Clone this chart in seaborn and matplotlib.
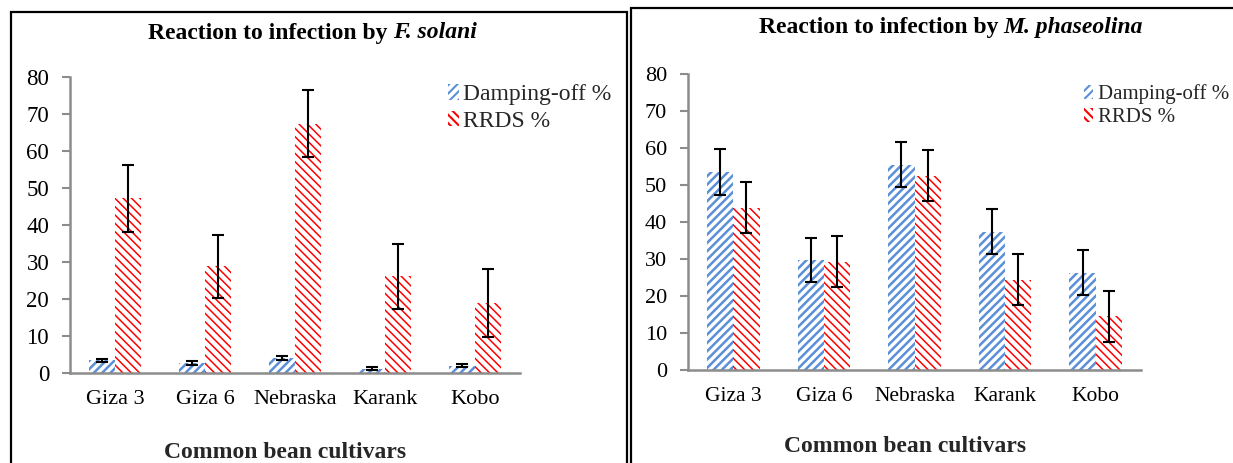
import numpy as np
import pandas as pd
import matplotlib
matplotlib.use("Agg")
import matplotlib.pyplot as plt
import seaborn as sns
from matplotlib.patches import Rectangle, Patch
from matplotlib.offsetbox import TextArea, HPacker, AnchoredOffsetbox

# ---------------- data ----------------
cultivars = ["Giza 3", "Giza 6", "Nebraska", "Karank", "Kobo"]
series_names = ["Damping-off %", "RRDS %"]

fs_damping = [3.4, 2.7, 4.1, 1.2, 2.0]
fs_damping_err = [0.5, 0.5, 0.5, 0.5, 0.5]
fs_rrds = [47.2, 28.8, 67.4, 26.1, 18.9]
fs_rrds_err = [9.0, 8.6, 9.0, 8.7, 9.1]

mp_damping = [53.5, 29.8, 55.5, 37.4, 26.3]
mp_damping_err = [6.1, 6.0, 6.0, 6.0, 6.0]
mp_rrds = [43.9, 29.3, 52.5, 24.4, 14.5]
mp_rrds_err = [6.8, 6.9, 6.9, 6.9, 6.9]

yticks = [0, 10, 20, 30, 40, 50, 60, 70, 80]

# ---------------- style ----------------
sns.set_theme(style="white")
plt.rcParams["font.family"] = ["Liberation Serif", "DejaVu Serif"]
plt.rcParams["hatch.linewidth"] = 1.5

BLUE = "#5B8FD8"
RED = "#FF0000"
GRAY = "#8C8C8C"
HATCHES = ["////", "\\\\\\\\"]
HATCH_LW = [1.8, 1.1]

W, H = 1233, 463
fig = plt.figure(figsize=(W / 100, H / 100), dpi=100)


def px_axes(x0, x1, ytop, ybot):
    return fig.add_axes([x0 / W, (H - ybot) / H, (x1 - x0) / W, (ybot - ytop) / H])


def style_patch(p, color, hatch, hlw):
    p.set_facecolor("white")
    p.set_edgecolor(color)
    p.set_hatch(hatch)
    p.set_linewidth(0)
    try:
        p.set_hatch_linewidth(hlw)
    except Exception:
        pass


def draw_panel(ax, dmp, dmp_err, rr, rr_err, ysize, xsize):
    df = pd.DataFrame({
        "cultivar": cultivars * 2,
        "measure": [series_names[0]] * len(cultivars) + [series_names[1]] * len(cultivars),
        "value": list(dmp) + list(rr),
    })
    sns.barplot(data=df, x="cultivar", y="value", hue="measure",
                order=cultivars, hue_order=series_names,
                palette=[BLUE, RED], width=0.58, errorbar=None,
                legend=False, ax=ax)
    colors = [BLUE, RED]
    errs = [dmp_err, rr_err]
    vals = [dmp, rr]
    bar_conts = list(ax.containers)
    for i, cont in enumerate(bar_conts):
        xs = []
        for p in cont.patches:
            style_patch(p, colors[i], HATCHES[i], HATCH_LW[i])
            xs.append(p.get_x() + p.get_width() / 2)
        ax.errorbar(xs, vals[i], yerr=errs[i], fmt="none", ecolor="black",
                    elinewidth=1.5, capsize=4.5, capthick=1.5, zorder=5)
    ax.set_ylim(0, 80)
    ax.set_yticks(yticks)
    ax.set_xlim(-0.5, len(cultivars) - 0.5)
    ax.set_xlabel("")
    ax.set_ylabel("")
    for s in ["top", "right"]:
        ax.spines[s].set_visible(False)
    for s in ["left", "bottom"]:
        ax.spines[s].set_color(GRAY)
        ax.spines[s].set_linewidth(1.8)
    ax.tick_params(axis="y", which="major", left=True, length=6, width=1.5,
                   color=GRAY, pad=9, labelsize=ysize, labelcolor="black")
    ax.tick_params(axis="x", length=0, pad=12, labelsize=xsize,
                   labelcolor="black")
    ax.set_facecolor("white")
    handles = []
    for c, h, lw in zip(colors, HATCHES, HATCH_LW):
        hp = Patch()
        style_patch(hp, c, h, lw)
        handles.append(hp)
    return handles


def title_box(xfig, yfig, plain, italic, size):
    tp = dict(fontsize=size, fontweight="bold", color="black",
              family=["Liberation Serif"])
    ti = dict(fontsize=size, fontweight="bold", fontstyle="italic", color="black",
              family=["Liberation Serif"])
    box = HPacker(children=[TextArea(plain, textprops=tp), TextArea(italic, textprops=ti)],
                  align="baseline", pad=0, sep=4)
    anch = AnchoredOffsetbox(loc="center", child=box, frameon=False,
                             bbox_to_anchor=(xfig, yfig), bbox_transform=fig.transFigure,
                             borderpad=0, pad=0)
    fig.add_artist(anch)


# ---------------- left panel ----------------
axL = px_axes(70, 520, 77, 373)
hL = draw_panel(axL, fs_damping, fs_damping_err, fs_rrds, fs_rrds_err, 16.5, 16)
axL.legend(hL, series_names, loc="upper left", bbox_to_anchor=(448 / W, 1 - 84 / H),
           bbox_transform=fig.transFigure, frameon=False, fontsize=17,
           handlelength=0.45, handleheight=0.65, handletextpad=0.2,
           labelspacing=0.23, borderpad=0, borderaxespad=0)
title_box(312 / W, 1 - 33 / H, "Reaction to infection by", "F. solani", 17)
fig.text(285 / W, 1 - 453 / H, "Common bean cultivars", ha="center", va="center",
         fontsize=17, fontweight="bold")

# ---------------- right panel ----------------
axR = px_axes(688, 1141, 74, 370)
hR = draw_panel(axR, mp_damping, mp_damping_err, mp_rrds, mp_rrds_err, 16, 15.5)
axR.legend(hR, series_names, loc="upper left", bbox_to_anchor=(1084 / W, 1 - 84 / H),
           bbox_transform=fig.transFigure, frameon=False, fontsize=15,
           handlelength=0.45, handleheight=0.65, handletextpad=0.2,
           labelspacing=0.2, borderpad=0, borderaxespad=0)
title_box(951 / W, 1 - 27 / H, "Reaction to infection by", "M. phaseolina", 17)
fig.text(905 / W, 1 - 447 / H, "Common bean cultivars", ha="center", va="center",
         fontsize=17, fontweight="bold")

# ---------------- panel frames ----------------
fig.add_artist(Rectangle((11 / W, -0.05), (627 - 11) / W, (463 - 12) / H + 0.05,
                         transform=fig.transFigure, fill=False, edgecolor="black",
                         linewidth=1.6))
fig.add_artist(Rectangle((631 / W, -0.05), (1250 - 631) / W, (463 - 8) / H + 0.05,
                         transform=fig.transFigure, fill=False, edgecolor="black",
                         linewidth=1.6))

fig.savefig("out.png", dpi=100, facecolor="white")
